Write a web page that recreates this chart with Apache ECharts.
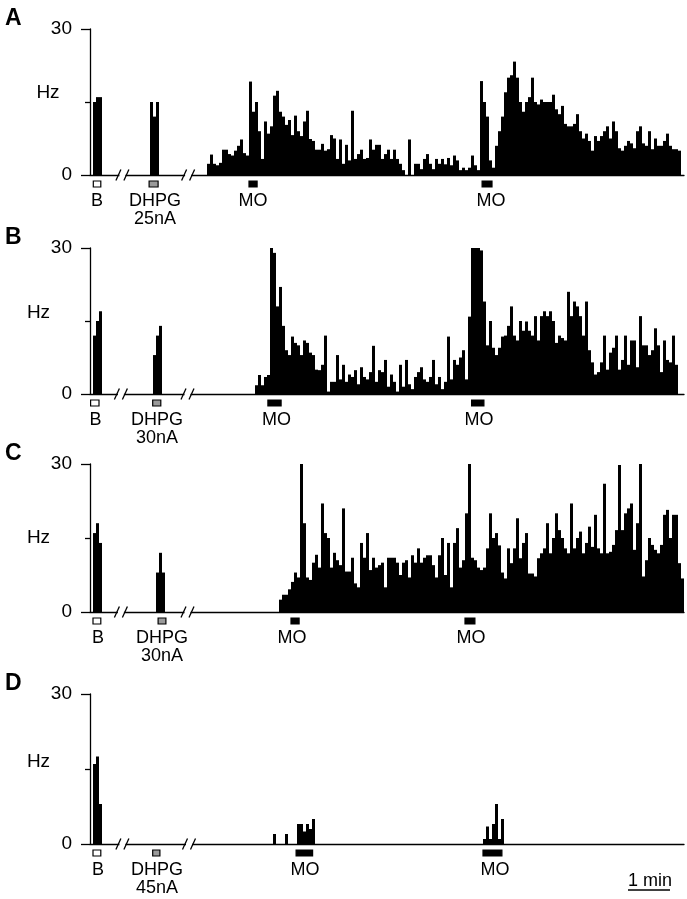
<!DOCTYPE html>
<html><head><meta charset="utf-8">
<script src="https://cdn.jsdelivr.net/npm/echarts@6/dist/echarts.min.js"></script>
<style>html,body{margin:0;padding:0;background:#fff}#c{width:687px;height:899px}</style>
</head><body><div id="c"></div>
<script>
// ---------- DATA (firing rate, Hz, per histogram bin) ----------
const NBINS = 198;
const yMax = 30;

const A_baseline = [15, 16, 16];
const A_dhpg = [15, 12, 15];
const A_record = [
  2.3, 4.2, 2.3, 2, 2.5, 5.2, 5.2, 4.3, 4, 5,
  6, 7.3, 4.5, 4, 19.2, 13, 15, 9, 3.3, 11,
  8.5, 10, 16.3, 17.3, 13, 12, 10.3, 11.3, 8.2, 12.2,
  9, 8, 11, 13.2, 7.4, 7, 5.2, 5.2, 6.4, 5,
  5.3, 8.2, 7.5, 3.3, 7.3, 2.3, 6.2, 3, 13.2, 3.3,
  4.3, 5.2, 3.3, 3.5, 7.3, 5.2, 6.2, 6.2, 3.3, 4.3,
  5.2, 3.3, 5.2, 3.3, 2.3, 1, 0, 7.3, 0, 2.3,
  2.3, 1.2, 3.3, 4.3, 2.3, 1.2, 3.3, 2.3, 3.3,
  2.2, 3.5, 2, 4, 3, 1, 1.5, 1, 1.5, 4,
  2, 1, 19.3, 15, 12, 3, 1.5, 6, 9, 12,
  17, 20, 20.5, 23.3, 20, 15, 13, 15, 16, 20,
  15, 14.5, 15.5, 15, 15, 15, 16.5, 13.5, 12.5, 14.2,
  10.5, 10, 10, 10.5, 12.5, 9, 7.5, 8.5, 7, 5,
  8, 7, 8, 9, 10, 7.5, 11, 9, 5.5, 5,
  6, 7, 6.5, 5.5, 9, 10, 6.5, 6, 9, 5.3,
  7.5, 6, 6, 7, 8.5, 6, 5.3, 5.3, 5
];

const B_baseline = [12, 15, 17];
const B_dhpg = [8, 12, 14];
const B_record = [
  1.8, 3.9, 1.8, 3.5, 3.9, 30, 29, 18, 22, 14,
  9, 8, 11.8, 10.5, 10, 8, 11, 10.5, 8.5, 8,
  5, 4.9, 6, 12, 0.5, 2.5, 2.5, 8, 3, 6,
  2.5, 4, 3.5, 4.9, 2, 5.5, 3.5, 3, 4.5, 9.9,
  2.5, 4.9, 4.5, 7, 1.5, 4, 2.5, 0.5, 6, 1.5,
  7, 2, 1, 3.5, 4.5, 5.5, 3, 2.5, 3.5, 7,
  2, 3.5, 1, 2.5, 11.8, 3, 7, 6, 7.5, 9,
  3, 15.9, 30, 30, 30, 29.5, 19, 10, 15, 9.5,
  8, 9.5, 11.8, 12, 14, 18, 12, 11, 15, 13,
  14.9, 13, 12, 16, 11, 16, 17, 16, 17, 15,
  10.5, 12, 11.5, 11, 21, 16, 19, 18, 16, 12,
  19, 9, 6.5, 4, 4.5, 6.5, 12, 5, 8.5, 9.5,
  12, 5, 7, 12, 6, 11, 11, 5.5, 16, 10,
  10, 8, 9, 13.5, 10, 4.5, 11, 7, 6.5, 12, 6
];

const C_baseline = [16, 18, 14];
const C_dhpg = [8, 12, 8];
const C_record = [
  2.5, 3.5, 3.5, 4.6, 6.1, 8, 7, 30, 18, 7,
  6.5, 10, 11.6, 9, 22, 16, 15, 9, 12, 10.5,
  9.5, 21, 8.2, 8.2,
  11, 5.8, 5, 14, 11, 16, 8.5, 11, 9, 9.5,
  10, 5, 11, 11, 11, 10, 7.5, 10, 10.5, 7,
  11.5, 10, 12.9, 10, 11, 11.5, 11.5, 9.5, 7, 11.5,
  15, 7.5, 14, 5, 14, 17, 9, 10.5, 20, 30,
  11, 10.5, 9, 8.5, 9, 12.9, 20, 15, 16, 13.5,
  8, 6.8, 12.9, 9.9, 12.9, 19, 10.9, 14, 16, 7.8,
  7.8, 7.2, 10.9, 11.9, 12.9, 18, 11.9, 15, 20, 16.6,
  15, 12.9, 11.9, 22, 12.9, 15, 16.3, 11.9, 14, 17.3,
  13.2, 19.7, 12.9, 11.9, 26, 11.9, 12.2, 13.6, 16.6, 29.8,
  16.6, 20, 21, 22, 12.6, 18, 30, 7.2, 10.5, 15,
  13.6, 12.6, 11.9, 13.6, 19.7, 20.7, 15, 19.7, 19.7, 9.9, 6.8
];

const D_baseline = [16, 17.5, 8];
const D_dhpg = [];
const D_record1 = [2, 0, 0, 0, 2, 0, 0, 0, 4, 4, 2.5, 4, 3, 5];
const D_record2 = [1, 3.5, 1, 4, 8, 1, 5];

const doses = ['25nA', '30nA', '30nA', '45nA'];

// ---------- LAYOUT ----------
const panels = [
  { letter: 'A', top: 29, bottom: 175, hz: [48, 93],
    segs: [[1, A_baseline], [20, A_dhpg], [39, A_record]],
    marks: [['open', 1.1, 3.6], ['gray', 19.7, 22.7], ['black', 53, 55.7], ['black', 130.7, 134]],
    labels: [['B', 2.3], ['DHPG', 21.7, true], ['MO', 54.3], ['MO', 133.7]],
    breaks: [10.8, 32.7] },
  { letter: 'B', top: 248, bottom: 394, hz: [38.5, 313],
    segs: [[1, B_baseline], [21, B_dhpg], [55, B_record]],
    marks: [['open', 0.2, 3], ['gray', 20.9, 23.6], ['black', 59.3, 63.7], ['black', 127.2, 131.3]],
    labels: [['B', 1.8], ['DHPG', 22.3, true], ['MO', 62.2], ['MO', 129.7]],
    breaks: [10.3, 32.5] },
  { letter: 'C', top: 464, bottom: 612, hz: [38.5, 538],
    segs: [[1, C_baseline], [22, C_dhpg], [63, C_record]],
    marks: [['open', 1, 3.6], ['gray', 22.7, 25.3], ['black', 67, 69.7], ['black', 125, 128.3]],
    labels: [['B', 2.7], ['DHPG', 24, true], ['MO', 67.3], ['MO', 127]],
    breaks: [10.3, 32.5] },
  { letter: 'D', top: 694, bottom: 844, hz: [38.5, 762],
    segs: [[1, D_baseline], [21, D_dhpg], [61, D_record1], [131, D_record2]],
    marks: [['open', 1, 3.6], ['gray', 20.9, 23.3], ['black', 68.7, 74.2], ['black', 131, 137.3]],
    labels: [['B', 2.7], ['DHPG', 22.3, true], ['MO', 71.7], ['MO', 135]],
    breaks: [10.8, 33] }
];

const FONT = '"Liberation Sans", Arial, Helvetica, sans-serif';
const cats = Array.from({length: NBINS}, (_, i) => i);

function build(segs) {
  const arr = new Array(NBINS).fill(null);
  segs.forEach(([s, vals]) => vals.forEach((v, i) => { arr[s + i] = v; }));
  return arr;
}

const grids = [], xAxes = [], yAxes = [], series = [];
panels.forEach((p, i) => {
  grids.push({ left: 90, width: 594, top: p.top, height: p.bottom - p.top });
  xAxes.push({ type: 'category', gridIndex: i, data: cats, boundaryGap: true,
    axisLine: { show: true, lineStyle: { color: '#000', width: 1.3 } },
    axisTick: { show: false }, axisLabel: { show: false }, splitLine: { show: false } });
  xAxes.push({ type: 'value', gridIndex: i, min: 0, max: NBINS, show: false });
  yAxes.push({ type: 'value', gridIndex: i, min: 0, max: yMax, interval: yMax,
    axisLine: { show: true, lineStyle: { color: '#000', width: 1.3 } },
    axisTick: { show: true, length: 9, lineStyle: { color: '#000', width: 1.3 } },
    minorTick: { show: true, splitNumber: 2, length: 5, lineStyle: { color: '#000', width: 1.3 } },
    axisLabel: { show: true, margin: 18, color: '#000', fontSize: 19, fontFamily: FONT },
    splitLine: { show: false }, minorSplitLine: { show: false } });
  series.push({ type: 'bar', xAxisIndex: 2 * i, yAxisIndex: i, data: build(p.segs),
    barCategoryGap: '0%', barGap: '0%', itemStyle: { color: '#000' }, silent: true });
});

const chart = echarts.init(document.getElementById('c'), null, { renderer: 'canvas' });
chart.setOption({ animation: false, backgroundColor: '#fff', grid: grids, xAxis: xAxes, yAxis: yAxes, series });

const g = [];
panels.forEach((p, i) => {
  const xi = 2 * i + 1;
  const px = v => chart.convertToPixel({ xAxisIndex: xi }, v);
  const y0 = chart.convertToPixel({ yAxisIndex: i }, 0);
  // panel letter
  g.push({ type: 'text', x: 5, y: p.top - 22, z: 100,
    style: { text: p.letter, font: 'bold 23px ' + FONT, fill: '#000', textVerticalAlign: 'top' } });
  g.push({ type: 'text', x: p.hz[0], y: p.hz[1], z: 100,
    style: { text: 'Hz', font: '19px ' + FONT, fill: '#000', textAlign: 'center', textVerticalAlign: 'middle' } });
  // markers
  p.marks.forEach(([kind, a, b]) => {
    const x1 = px(a), x2 = px(b);
    g.push({ type: 'rect', z: 100, shape: { x: x1, y: y0 + 6, width: x2 - x1, height: 6 },
      style: { fill: kind === 'black' ? '#000' : (kind === 'gray' ? '#9a9a9a' : '#fff'),
               stroke: '#000', lineWidth: 1.2 } });
  });
  p.labels.forEach(([t, at, sub]) => {
    const cx = px(at);
    g.push({ type: 'text', x: cx, y: y0 + 26, z: 100,
      style: { text: t, font: '18px ' + FONT, fill: '#000', textAlign: 'center', textVerticalAlign: 'middle' } });
    if (sub) g.push({ type: 'text', x: cx, y: y0 + 44, z: 100,
      style: { text: doses[i], font: '18px ' + FONT, fill: '#000', textAlign: 'center', textVerticalAlign: 'middle' } });
  });
  // axis breaks
  p.breaks.forEach(b => {
    const cx = px(b);
    g.push({ type: 'rect', z: 100, shape: { x: cx - 3, y: y0 - 2, width: 6, height: 4 }, style: { fill: '#fff' } });
    g.push({ type: 'line', z: 101, shape: { x1: cx - 6.5, y1: y0 + 5.5, x2: cx - 1.5, y2: y0 - 5.5 },
      style: { stroke: '#000', lineWidth: 1.3 } });
    g.push({ type: 'line', z: 101, shape: { x1: cx + 1.5, y1: y0 + 5.5, x2: cx + 6.5, y2: y0 - 5.5 },
      style: { stroke: '#000', lineWidth: 1.3 } });
  });
});
// scale bar: 1 min
g.push({ type: 'text', x: 650, y: 881, z: 100,
  style: { text: '1 min', font: '18px ' + FONT, fill: '#000', textAlign: 'center', textVerticalAlign: 'middle' } });
g.push({ type: 'line', z: 100, shape: { x1: 628, y1: 890, x2: 670, y2: 890 }, style: { stroke: '#000', lineWidth: 1.3 } });

chart.setOption({ graphic: g });
</script>
</body></html>
